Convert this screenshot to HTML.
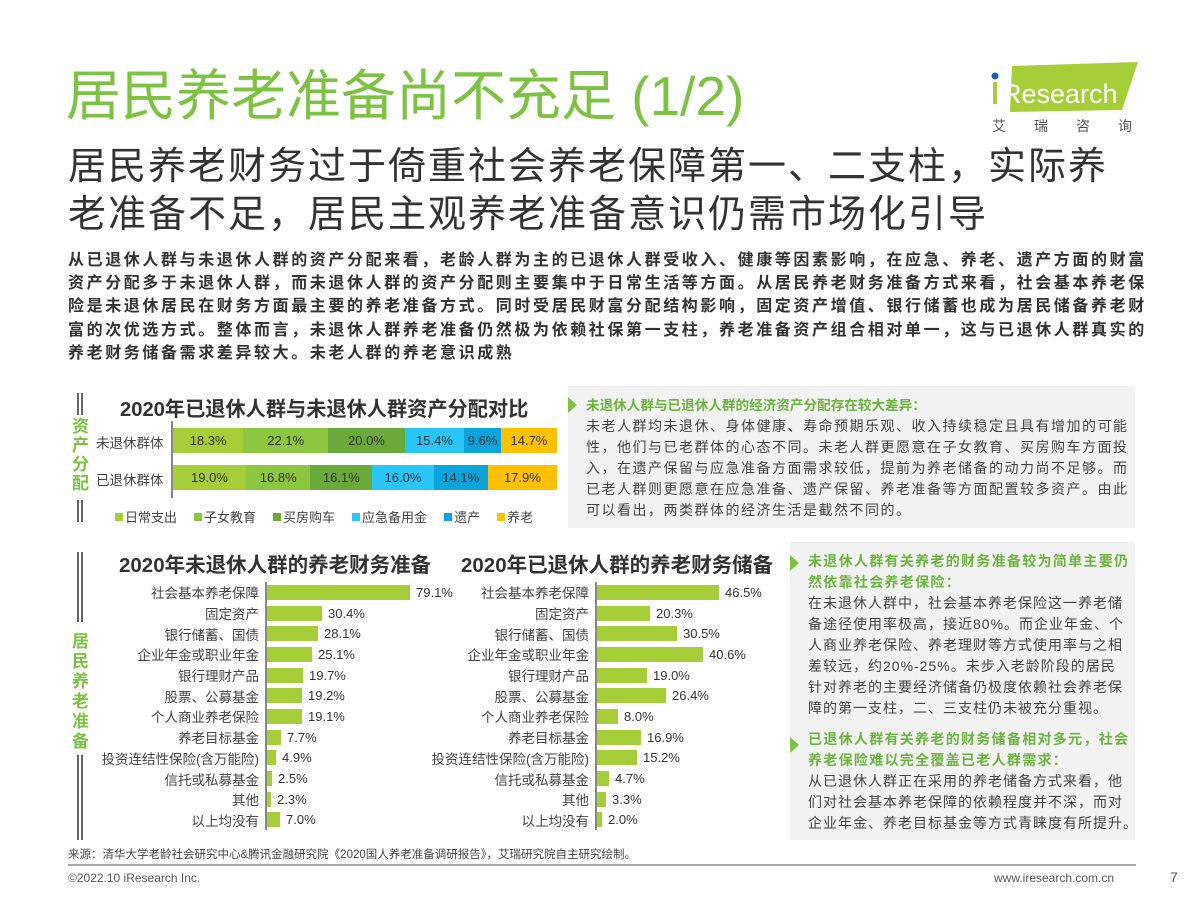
<!DOCTYPE html>
<html><head><meta charset="utf-8"><style>
*{margin:0;padding:0;box-sizing:border-box}
body{width:1200px;height:900px;background:#fff;position:relative;overflow:hidden;font-family:"Liberation Sans","Noto Sans CJK SC",sans-serif;color:#333}
.a{position:absolute;white-space:nowrap}
.g{color:#7dc242}
.row{height:20.7px;display:flex;align-items:center;position:relative}
.lab{position:absolute;right:calc(100% + 8px);font-size:13.5px;color:#444;top:50%;transform:translateY(-50%)}
.bar{height:15px;background:#a6ce39}
.val{font-size:13px;margin-left:6px;color:#333}
.seg{height:100%;display:flex;align-items:center;justify-content:center;font-size:13px;color:#333}
.box{position:absolute;background:#f2f2f2}
.tx p{font-size:14px;letter-spacing:1px;line-height:21px;color:#444}
.hd{font-size:13.6px;line-height:21px;color:#6db33f;font-weight:bold}
.hd2{font-size:14px;letter-spacing:1.3px;line-height:21px;color:#6db33f;font-weight:bold}
.tri{position:absolute;width:0;height:0;border-top:8px solid transparent;border-bottom:8px solid transparent;border-left:9px solid #7dc242}
.vb{position:absolute;width:6px;border-left:2px solid #666;border-right:2px solid #666}
.leg{display:inline-flex;align-items:center;margin-right:17px;font-size:13px}
.leg i{display:inline-block;width:8px;height:8px;margin-right:2px}
</style></head><body>
<div class="a g" style="left:66px;top:63px;font-size:55px;line-height:66px">居民养老准备尚不充足 (1/2)</div>
<div class="a" style="left:68px;top:143px;font-size:38px;line-height:48px;letter-spacing:2px;color:#333">居民养老财务过于倚重社会养老保障第一、二支柱，实际养<br>老准备不足，居民主观养老准备意识仍需市场化引导</div>
<!-- logo -->
<svg class="a" style="left:990px;top:60px" width="150" height="78">
<polygon points="22,6 148,2 132,50 20,52" fill="#a6ce39"/>
<circle cx="5" cy="16" r="3.5" fill="#1f5fa8"/>
<rect x="3" y="22" width="4" height="22" fill="#a6ce39"/>
<text x="12" y="43" font-family="Liberation Sans" font-size="27" fill="#fff">Research</text>
<text x="2" y="71" font-family="Noto Sans CJK SC" font-size="14" fill="#555" letter-spacing="28">艾瑞咨询</text>
</svg>
<div class="a" style="left:68px;top:249px;font-size:16px;letter-spacing:2.6px;line-height:23.2px;font-weight:bold;color:#333">从已退休人群与未退休人群的资产分配来看，老龄人群为主的已退休人群受收入、健康等因素影响，在应急、养老、遗产方面的财富<br>资产分配多于未退休人群，而未退休人群的资产分配则主要集中于日常生活等方面。从居民养老财务准备方式来看，社会基本养老保<br>险是未退休居民在财务方面最主要的养老准备方式。同时受居民财富分配结构影响，固定资产增值、银行储蓄也成为居民储备养老财<br>富的次优选方式。整体而言，未退休人群养老准备仍然极为依赖社保第一支柱，养老准备资产组合相对单一，这与已退休人群真实的<br>养老财务储备需求差异较大。未老人群的养老意识成熟</div>

<!-- chart 1 -->
<div class="vb" style="left:77px;top:393px;height:22px"></div>
<div class="a g" style="left:72px;top:417px;font-size:17px;line-height:19px;font-weight:bold;white-space:normal;width:18px">资产分配</div>
<div class="vb" style="left:77px;top:500px;height:22px"></div>
<div class="a" style="left:120px;top:393px;font-size:20.2px;font-weight:bold;color:#333">2020年已退休人群与未退休人群资产分配对比</div>
<div class="a" style="left:171px;top:421px;width:2px;height:77px;background:#888"></div>
<div class="a" style="left:96px;top:432px;font-size:13.5px;color:#444">未退休群体</div>
<div class="a" style="left:96px;top:469px;font-size:13.5px;color:#444">已退休群体</div>
<div class="a" style="left:173px;top:428px;width:384px;height:25px;display:flex">
<div class="seg" style="width:18.3%;background:#a6ce39">18.3%</div><div class="seg" style="width:22.1%;background:#8dc63f">22.1%</div><div class="seg" style="width:20.0%;background:#6aaa3a">20.0%</div><div class="seg" style="width:15.4%;background:#29c5f6">15.4%</div><div class="seg" style="width:9.6%;background:#0aa5dc">9.6%</div><div class="seg" style="width:14.6%;background:#ffc000">14.7%</div></div>
<div class="a" style="left:173px;top:465px;width:384px;height:25px;display:flex">
<div class="seg" style="width:19.0%;background:#a6ce39">19.0%</div><div class="seg" style="width:16.8%;background:#8dc63f">16.8%</div><div class="seg" style="width:16.1%;background:#6aaa3a">16.1%</div><div class="seg" style="width:16.0%;background:#29c5f6">16.0%</div><div class="seg" style="width:14.1%;background:#0aa5dc">14.1%</div><div class="seg" style="width:18.0%;background:#ffc000">17.9%</div></div>
<div class="a" style="left:115px;top:507px;color:#444">
<span class="leg"><i style="background:#a6ce39"></i>日常支出</span><span class="leg"><i style="background:#8dc63f"></i>子女教育</span><span class="leg"><i style="background:#6aaa3a"></i>买房购车</span><span class="leg"><i style="background:#29c5f6"></i>应急备用金</span><span class="leg"><i style="background:#0aa5dc"></i>遗产</span><span class="leg"><i style="background:#ffc000"></i>养老</span></div>

<div class="box" style="left:568px;top:386px;width:567px;height:142px"></div>
<div class="tri" style="left:568px;top:397px"></div>
<div class="a tx" style="left:586px;top:395px">
<div class="hd">未退休人群与已退休人群的经济资产分配存在较大差异：</div>
<p style="letter-spacing:1.5px">未老人群均未退休、身体健康、寿命预期乐观、收入持续稳定且具有增加的可能<br>性，他们与已老群体的心态不同。未老人群更愿意在子女教育、买房购车方面投<br>入，在遗产保留与应急准备方面需求较低，提前为养老储备的动力尚不足够。而<br>已老人群则更愿意在应急准备、遗产保留、养老准备等方面配置较多资产。由此<br>可以看出，两类群体的经济生活是截然不同的。</p></div>

<!-- chart 2/3 -->
<div class="vb" style="left:77px;top:552px;height:70px"></div>
<div class="a g" style="left:72px;top:632px;font-size:17px;line-height:20px;font-weight:bold;white-space:normal;width:18px">居民养老准备</div>
<div class="vb" style="left:77px;top:755px;height:85px"></div>
<div class="a" style="left:119px;top:548px;font-size:20.5px;font-weight:bold">2020年未退休人群的养老财务准备</div>
<div class="a" style="left:461px;top:548px;font-size:20.5px;font-weight:bold">2020年已退休人群的养老财务储备</div>
<div class="a" style="left:265px;top:582px;width:2px;height:248px;background:#888"></div>
<div class="a" style="left:595px;top:582px;width:2px;height:248px;background:#888"></div>
<div class="a" style="left:267px;top:582px">
<div class="row"><span class="lab">社会基本养老保障</span><div class="bar" style="width:143px"></div><span class="val">79.1%</span></div>
<div class="row"><span class="lab">固定资产</span><div class="bar" style="width:55px"></div><span class="val">30.4%</span></div>
<div class="row"><span class="lab">银行储蓄、国债</span><div class="bar" style="width:51px"></div><span class="val">28.1%</span></div>
<div class="row"><span class="lab">企业年金或职业年金</span><div class="bar" style="width:45px"></div><span class="val">25.1%</span></div>
<div class="row"><span class="lab">银行理财产品</span><div class="bar" style="width:36px"></div><span class="val">19.7%</span></div>
<div class="row"><span class="lab">股票、公募基金</span><div class="bar" style="width:35px"></div><span class="val">19.2%</span></div>
<div class="row"><span class="lab">个人商业养老保险</span><div class="bar" style="width:35px"></div><span class="val">19.1%</span></div>
<div class="row"><span class="lab">养老目标基金</span><div class="bar" style="width:14px"></div><span class="val">7.7%</span></div>
<div class="row"><span class="lab">投资连结性保险(含万能险)</span><div class="bar" style="width:9px"></div><span class="val">4.9%</span></div>
<div class="row"><span class="lab">信托或私募基金</span><div class="bar" style="width:5px"></div><span class="val">2.5%</span></div>
<div class="row"><span class="lab">其他</span><div class="bar" style="width:4px"></div><span class="val">2.3%</span></div>
<div class="row"><span class="lab">以上均没有</span><div class="bar" style="width:13px"></div><span class="val">7.0%</span></div>
</div>
<div class="a" style="left:597px;top:582px">
<div class="row"><span class="lab">社会基本养老保障</span><div class="bar" style="width:122px"></div><span class="val">46.5%</span></div>
<div class="row"><span class="lab">固定资产</span><div class="bar" style="width:53px"></div><span class="val">20.3%</span></div>
<div class="row"><span class="lab">银行储蓄、国债</span><div class="bar" style="width:80px"></div><span class="val">30.5%</span></div>
<div class="row"><span class="lab">企业年金或职业年金</span><div class="bar" style="width:106px"></div><span class="val">40.6%</span></div>
<div class="row"><span class="lab">银行理财产品</span><div class="bar" style="width:50px"></div><span class="val">19.0%</span></div>
<div class="row"><span class="lab">股票、公募基金</span><div class="bar" style="width:69px"></div><span class="val">26.4%</span></div>
<div class="row"><span class="lab">个人商业养老保险</span><div class="bar" style="width:21px"></div><span class="val">8.0%</span></div>
<div class="row"><span class="lab">养老目标基金</span><div class="bar" style="width:44px"></div><span class="val">16.9%</span></div>
<div class="row"><span class="lab">投资连结性保险(含万能险)</span><div class="bar" style="width:40px"></div><span class="val">15.2%</span></div>
<div class="row"><span class="lab">信托或私募基金</span><div class="bar" style="width:12px"></div><span class="val">4.7%</span></div>
<div class="row"><span class="lab">其他</span><div class="bar" style="width:9px"></div><span class="val">3.3%</span></div>
<div class="row"><span class="lab">以上均没有</span><div class="bar" style="width:5px"></div><span class="val">2.0%</span></div>
</div>

<div class="box" style="left:790px;top:542px;width:345px;height:298px"></div>
<div class="tri" style="left:790px;top:555px"></div>
<div class="tri" style="left:790px;top:737px"></div>
<div class="a tx" style="left:808px;top:551px">
<div class="hd2">未退休人群有关养老的财务准备较为简单主要仍<br>然依靠社会养老保险：</div>
<p>在未退休人群中，社会基本养老保险这一养老储<br>备途径使用率极高，接近80%。而企业年金、个<br>人商业养老保险、养老理财等方式使用率与之相<br>差较远，约20%-25%。未步入老龄阶段的居民<br>针对养老的主要经济储备仍极度依赖社会养老保<br>障的第一支柱，二、三支柱仍未被充分重视。</p>
<div class="hd2" style="margin-top:10px">已退休人群有关养老的财务储备相对多元，社会<br>养老保险难以完全覆盖已老人群需求：</div>
<p>从已退休人群正在采用的养老储备方式来看，他<br>们对社会基本养老保障的依赖程度并不深，而对<br>企业年金、养老目标基金等方式青睐度有所提升。</p></div>

<div class="a" style="left:68px;top:846px;font-size:11.5px;color:#444">来源：清华大学老龄社会研究中心&amp;腾讯金融研究院《2020国人养老准备调研报告》，艾瑞研究院自主研究绘制。</div>
<div class="a" style="left:68px;top:864px;width:1068px;height:2px;background:#aaa"></div>
<div class="a" style="left:68px;top:871px;font-size:12px;color:#555">©2022.10 iResearch Inc.</div>
<div class="a" style="left:994px;top:871px;font-size:12px;color:#555">www.iresearch.com.cn</div>
<div class="a" style="left:1170px;top:869px;font-size:14px;color:#555">7</div>
</body></html>
